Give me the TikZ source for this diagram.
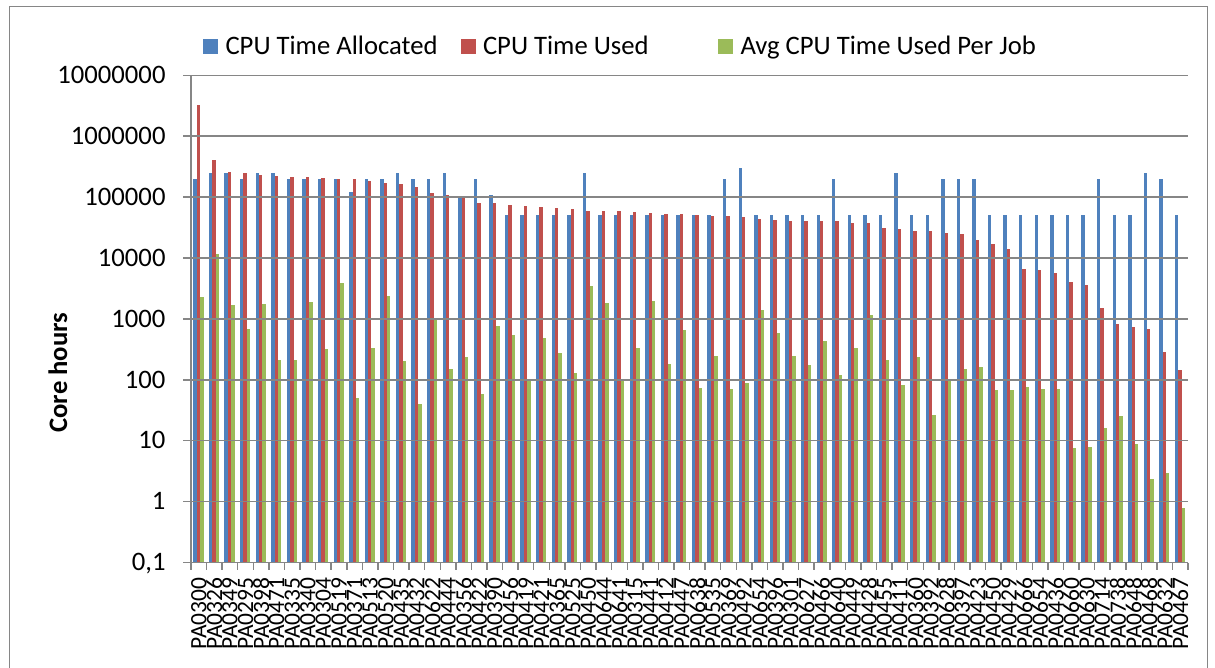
\documentclass[tikz,border=0pt]{standalone}
\usepackage{fontspec}
\setmainfont{Carlito}
\usepackage{xcolor}
\usepackage{tikz}
\definecolor{alloc}{HTML}{4F81BD}
\definecolor{used}{HTML}{C0504D}
\definecolor{perjob}{HTML}{9BBB59}
\definecolor{axisgray}{HTML}{868686}

\begin{document}
\begin{tikzpicture}[x=0.75pt,y=-0.75pt,line width=0.75pt,
  every node/.style={font=\fontsize{20pt}{24pt}\selectfont,inner sep=0pt},
  gridline/.style={draw=axisgray,line width=1.1pt},
  legkey/.style={minimum size=11.25pt,inner sep=0pt},
  catlabel/.style={font=\fontsize{17.6pt}{20pt}\selectfont,rotate=90,anchor=east}]
  \useasboundingbox (0,0) rectangle (1215,668);
  \draw[draw=axisgray] (9,680) -- (9,6) -- (1207,6) -- (1207,680);
  \foreach \lab/\va/\vb/\vc [count=\i] in {
    PA0300/200000/3200000/2265, PA0326/250000/411000/11600,
    PA0349/250000/255000/1670, PA0295/200000/250000/676,
    PA0398/250000/228000/1735, PA0471/250000/219000/214,
    PA0335/200000/211000/212, PA0340/200000/211000/1900,
    PA0304/200000/204000/316, PA0519/200000/200000/3840,
    PA0371/120000/200000/50, PA0513/200000/182000/329,
    PA0520/200000/169000/2350, PA0435/250000/164000/204,
    PA0432/200000/147000/40, PA0622/200000/115000/1048,
    PA0444/250000/110000/150, PA0356/100000/100000/237,
    PA0422/200000/81000/58, PA0390/110000/79000/764,
    PA0456/50000/73000/550, PA0419/50000/72000/102,
    PA0421/50000/69000/485, PA0365/50000/65000/272,
    PA0525/50000/63000/128, PA0450/250000/59000/3470,
    PA0644/50000/58500/1820, PA0641/50000/58500/100,
    PA0315/50000/56000/333, PA0441/50000/54000/1945,
    PA0412/50000/53500/182, PA0447/50000/52700/660,
    PA0638/50000/50000/72, PA0535/50000/49500/245,
    PA0369/200000/49000/70, PA0492/300000/46500/87.5,
    PA0654/50000/44000/1400, PA0396/50000/42000/594,
    PA0301/50000/40500/245, PA0627/50000/40500/175,
    PA0466/50000/40000/433, PA0640/200000/40000/120,
    PA0449/50000/37000/333, PA0428/50000/37000/1145,
    PA0455/50000/31500/214, PA0411/250000/30000/82,
    PA0360/50000/28000/236, PA0392/50000/27400/26,
    PA0628/200000/25400/100, PA0397/200000/24800/149,
    PA0423/200000/19500/164, PA0450/50000/16800/67,
    PA0429/50000/13900/67, PA0666/50000/6530/77,
    PA0654/50000/6450/70, PA0436/50000/5760/71,
    PA0660/50000/3990/7.7, PA0630/50000/3560/8,
    PA0714/200000/1490/16, PA0738/50000/824/25,
    PA0648/50000/736/8.9, PA0468/250000/676/2.35,
    PA0632/200000/287/3.0, PA0467/50000/143/0.8}{
    \pgfmathsetmacro\xl{191+(\i-1)*15.58}
    \edef\ya{\fpeval{round(75.3+(7-ln(\va)/ln(10))*60.9,2)}}
    \edef\yb{\fpeval{round(75.3+(7-ln(\vb)/ln(10))*60.9,2)}}
    \edef\yc{\fpeval{round(75.3+(7-ln(\vc)/ln(10))*60.9,2)}}
    \fill[alloc]  (\xl+2.3,562.6) rectangle (\xl+5.7,\ya);
    \fill[used]   (\xl+5.7,562.6) rectangle (\xl+9.1,\yb);
    \fill[perjob] (\xl+9.1,562.6) rectangle (\xl+12.5,\yc);
    \node[catlabel] (cat\i) at (\xl+7.8,577) {\lab};
  }
  \foreach \k in {0,...,8}
    \draw[gridline] (183,75.3+\k*60.9) -- (1188,75.3+\k*60.9);
  \draw[gridline] (191,75.3) -- (191,562.6);
  \foreach \i in {0,...,64}
    \draw[gridline] (191+\i*15.58,562.6) -- ++(0,7.5);
  \foreach \t [count=\k from 0] in {10000000,1000000,100000,10000,1000,100,10,1,{0,1}}
    \node[anchor=base east] (tick\k) at (166,83.5+\k*60.9) {\t};
  \node[font=\bfseries\fontsize{20pt}{24pt}\selectfont,rotate=90,anchor=base west]
    (ytitle) at (67,433) {Core hours};
  \node[legkey,fill=alloc]  (keyA) at (210.5,46.5) {};
  \node[legkey,fill=used]   (keyB) at (468,46.5) {};
  \node[legkey,fill=perjob] (keyC) at (725.5,46.5) {};
  \node[anchor=base west] (txtA) at (225,54.3) {CPU Time Allocated};
  \node[anchor=base west] (txtB) at (482.5,54.3) {CPU Time Used};
  \node[anchor=base west] (txtC) at (740,54.3) {Avg CPU Time Used Per Job};
\end{tikzpicture}
\end{document}
